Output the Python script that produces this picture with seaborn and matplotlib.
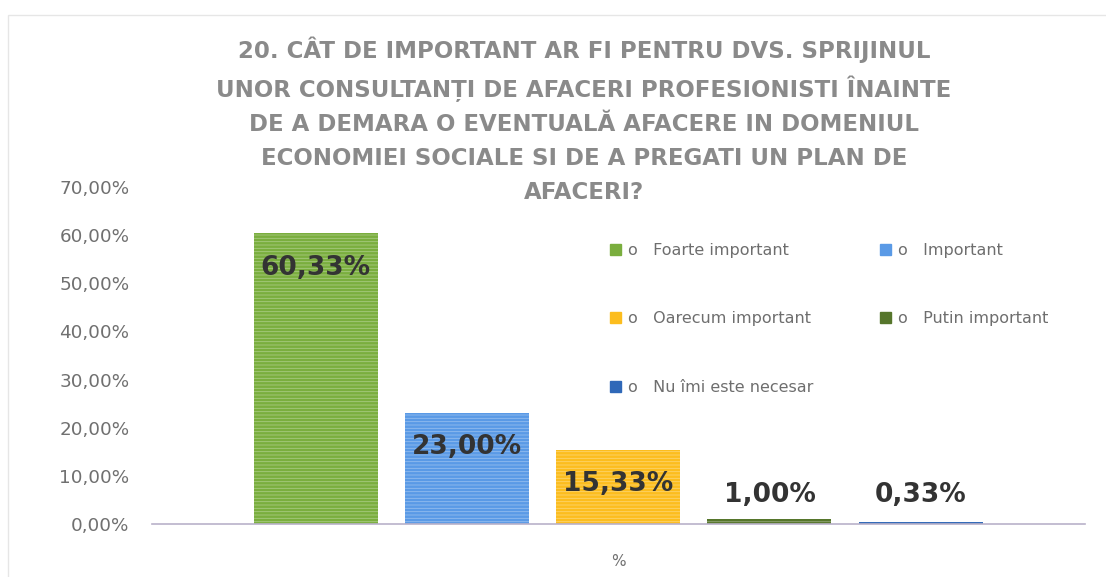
import pandas as pd
import seaborn as sns
import matplotlib.pyplot as plt
from matplotlib.patches import Patch, Rectangle

# chart data
categories = ["Foarte important", "Important", "Oarecum important",
              "Putin important", "Nu îmi este necesar"]
values = [60.33, 23.00, 15.33, 1.00, 0.33]
colors = ["#7aae3e", "#5a9ae6", "#fcbd1e", "#56762c", "#2f68b8"]
yticks = [0, 10, 20, 30, 40, 50, 60, 70]

title = ("20. CÂT DE IMPORTANT AR FI PENTRU DVS. SPRIJINUL\n"
         "UNOR CONSULTANȚI DE AFACERI PROFESIONISTI ÎNAINTE\n"
         "DE A DEMARA O EVENTUALĂ AFACERE IN DOMENIUL\n"
         "ECONOMIEI SOCIALE SI DE A PREGATI UN PLAN DE\n"
         "AFACERI?")

df = pd.DataFrame({"grup": ["%"] * len(values), "raspuns": categories, "valoare": values})

sns.set_theme(style="white")
plt.rcParams["font.family"] = ["DejaVu Sans"]
plt.rcParams["hatch.linewidth"] = 0.6

fig = plt.figure(figsize=(11.06, 5.77), dpi=100)
fig.patches.append(Rectangle((8 / 1106, -0.1), 1.2, 1.1 - 15 / 577, transform=fig.transFigure,
                             fill=False, edgecolor="#e6e6e6", linewidth=1))
ax = fig.add_axes([0.137, 0.092, 0.844, 0.584])

sns.barplot(data=df, x="grup", y="valoare", hue="raspuns", hue_order=categories,
            palette=colors, saturation=1, width=0.81, gap=0.18, legend=False, ax=ax)

# faint horizontal stripes like the scanned original
for cont in ax.containers:
    for bar in cont.patches:
        bar.set_hatch("-----")
        bar.set_edgecolor((1, 1, 1, 0.35))
        bar.set_linewidth(0)

ax.set_ylim(0, 70)
ax.set_xlim(-0.5, 0.5)
ax.set_yticks(yticks)
ax.set_yticklabels([f"{t:.2f}".replace(".", ",") + "%" for t in yticks],
                   fontsize=13.2, color="#707070")
ax.tick_params(axis="y", length=0, pad=16)
ax.set_xticks([])
ax.set_xlabel("%", fontsize=11, color="#707070", labelpad=22)
ax.set_ylabel("")
for s in ["top", "right", "left"]:
    ax.spines[s].set_visible(False)
ax.spines["bottom"].set_color("#b9b2c9")
ax.spines["bottom"].set_linewidth(1.2)

# data labels
for cont, v in zip(ax.containers, values):
    bar = cont.patches[0]
    cx = bar.get_x() + bar.get_width() / 2
    ax.text(cx, max(v - 7.1, 6.0), f"{v:.2f}".replace(".", ",") + "%",
            ha="center", va="center", fontsize=19, fontweight="bold", color="#333333")

# legend, row-major order
handles = [Patch(color=c, label="o   " + n) for c, n in zip(colors, categories)]
order = [0, 2, 4, 1, 3]
ax.legend([handles[i] for i in order], [handles[i].get_label() for i in order],
          ncol=2, frameon=False, loc="upper left", bbox_to_anchor=(0.476, 0.877),
          fontsize=11.5, labelcolor="#6e6e6e", handlelength=0.7, handleheight=0.7,
          handletextpad=0.4, columnspacing=4.2, labelspacing=3.35)

fig.text(0.528, 0.792, title, ha="center", va="center", fontsize=16.5, fontweight="bold",
         color="#8a8a8a", linespacing=1.6)

fig.savefig("out.png", dpi=100, facecolor="white")
